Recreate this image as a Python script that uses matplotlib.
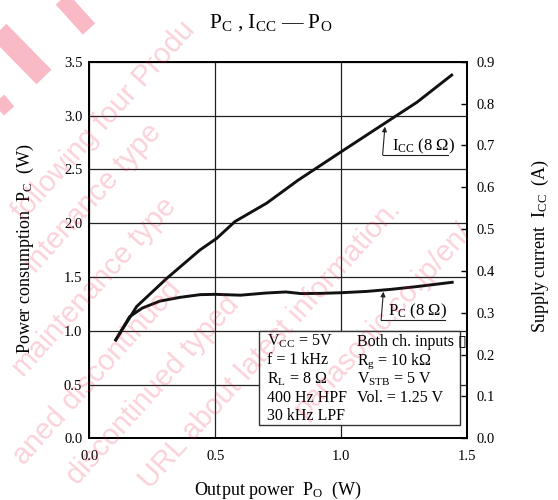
import matplotlib
matplotlib.use('Agg')
import matplotlib.pyplot as plt
from matplotlib.patches import Rectangle
from matplotlib.lines import Line2D

# Pc vs Po (W)
po_pc = [0.105, 0.16, 0.21, 0.28, 0.36, 0.44, 0.5, 0.6, 0.7, 0.78, 0.84, 0.92, 1.0, 1.1, 1.2, 1.3, 1.44]
pc = [0.915, 1.13, 1.21, 1.275, 1.31, 1.335, 1.338, 1.33, 1.35, 1.36, 1.345, 1.347, 1.353, 1.365, 1.385, 1.41, 1.45]

# Icc vs Po (A)
po_icc = [0.105, 0.188, 0.307, 0.439, 0.506, 0.578, 0.704, 0.829, 1.0, 1.193, 1.3, 1.438]
icc = [0.235, 0.315, 0.382, 0.45, 0.478, 0.518, 0.562, 0.617, 0.685, 0.761, 0.803, 0.868]

x_ticks = [0.0, 0.5, 1.0, 1.5]
pc_ticks = [0.0, 0.5, 1.0, 1.5, 2.0, 2.5, 3.0, 3.5]
icc_ticks = [0.0, 0.1, 0.2, 0.3, 0.4, 0.5, 0.6, 0.7, 0.8, 0.9]

cond_left = [r'V$_{\rm CC}$ = 5V', 'f = 1 kHz', r'R$_{\rm L}$ = 8 Ω', '400 Hz HPF', '30 kHz LPF']
cond_right = ['Both ch. inputs \u25af', r'R$_{\rm g}$ = 10 kΩ', r'V$_{\rm STB}$ = 5 V', 'Vol. = 1.25 V']
cond_rows = [0.862, 0.688, 0.511, 0.34, 0.17]

# watermark fragments that show inside the picture, with their start point (px from top-left)
wm_text = ['following four Produ', 'intenance type', 'maintenance type', 'aned discontinued',
           'discontinued typed', 'URL about latest information.', 'panasonic.co.jp/en/']
wm_x = [24, 36, 24, 24, 78, 150, 305]
wm_y = [222, 274, 378, 466, 486, 490, 419]

plt.rcParams['font.family'] = ['Liberation Serif', 'DejaVu Serif']
plt.rcParams['mathtext.fontset'] = 'custom'
plt.rcParams['mathtext.rm'] = 'Liberation Serif'
plt.rcParams['mathtext.it'] = 'Liberation Serif:italic'

W, H = 558, 500
fig = plt.figure(figsize=(W / 100, H / 100), dpi=100)
ax = fig.add_axes([89.3 / W, 1 - 438.3 / H, 378 / W, 376.6 / H])
ax.set_xlim(0, 1.5)
ax.set_ylim(0, 3.5)
ax.set_xticks(x_ticks)
ax.set_xticklabels(['%.1f' % v for v in x_ticks])
ax.set_yticks(pc_ticks)
ax.set_yticklabels(['%.1f' % v for v in pc_ticks])
ax.grid(True, color='#222222', lw=0.9)
ax.set_axisbelow(True)
ax.tick_params(axis='both', length=0, labelsize=10.5)
ax.tick_params(axis='x', pad=8.5)
ax.tick_params(axis='y', pad=5)
for s in ax.spines.values():
    s.set_linewidth(1.3)

ax2 = ax.twinx()
ax2.set_ylim(0, 0.9)
ax2.set_yticks(icc_ticks)
ax2.set_yticklabels(['%.1f' % v for v in icc_ticks])
ax2.tick_params(axis='y', direction='in', length=4, width=1, pad=6.5, labelsize=10.5)
for s in ax2.spines.values():
    s.set_linewidth(1.3)

ax.plot(po_pc, pc, color='#111111', lw=2.1, zorder=3)
ax2.plot(po_icc, icc, color='#111111', lw=2.1, zorder=3)

# condition box
ax.add_patch(Rectangle((0.675, 0.12), 0.796, 0.88, fc='white', ec='#333333', lw=1.0, zorder=1.5))
for i, t in enumerate(cond_left):
    ax.text(0.704, cond_rows[i], t, fontsize=11.5, va='baseline', zorder=2)
for i, t in enumerate(cond_right):
    ax.text(1.061, cond_rows[i], t, fontsize=11.5, va='baseline', zorder=2)

# curve labels with arrow and underline
arrow = dict(arrowstyle='-|>', lw=0.8, color='#222222', mutation_scale=7, shrinkA=0, shrinkB=0)
ax.annotate('', xy=(1.173, 2.896), xytext=(1.164, 2.633), arrowprops=arrow)
ax.plot([1.164, 1.425], [2.633, 2.633], color='#222222', lw=0.8)
ax.text(1.2, 2.68, r'I$_{\rm CC}$ (8 Ω)', fontsize=12, va='baseline')
ax.annotate('', xy=(1.167, 1.362), xytext=(1.158, 1.099), arrowprops=arrow)
ax.plot([1.158, 1.412], [1.099, 1.099], color='#222222', lw=0.8)
ax.text(1.187, 1.146, r'P$_{\rm C}$ (8 Ω)', fontsize=12, va='baseline')

fig.text(0.485, 1 - 28 / H, r'P$_{\rm C}$ , I$_{\rm CC}$ — P$_{\rm O}$', fontsize=15.5,
         ha='center', va='baseline')
fig.text(278 / W, 1 - 495 / H, r'Output power  P$_{\rm O}$  (W)', fontsize=13, ha='center', va='baseline')
fig.text(25 / W, 1 - 249 / H, r'Power consumption  P$_{\rm C}$  (W)', fontsize=13,
         ha='center', va='center', rotation=90)
fig.text(540 / W, 1 - 246 / H, r'Supply current  I$_{\rm CC}$  (A)', fontsize=13,
         ha='center', va='center', rotation=90)

# watermark
for txt, x0, y0 in zip(wm_text, wm_x, wm_y):
    fig.text(x0 / W, 1 - y0 / H, txt, fontsize=21, family='Liberation Sans', color='#ED1A40',
             alpha=0.2, rotation=48, rotation_mode='anchor', ha='left', va='baseline', zorder=10)
for (x0, y0, x1, y1, w) in [(61, -2, 89, 29, 12), (-8, 24, 44, 77, 15), (-12, 86, 9, 111, 10)]:
    fig.add_artist(Line2D([x0 / W, x1 / W], [1 - y0 / H, 1 - y1 / H], transform=fig.transFigure,
                          lw=w, color='#ED1A40', alpha=0.3, solid_capstyle='butt', zorder=10))

fig.savefig('out.png', dpi=100)
